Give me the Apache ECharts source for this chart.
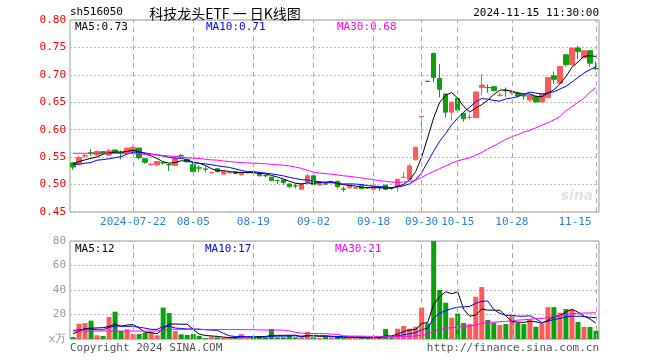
<!DOCTYPE html>
<html><head><meta charset="utf-8">
<script src="https://cdn.jsdelivr.net/npm/echarts@6/dist/echarts.min.js"></script>
<style>html,body{margin:0;padding:0;background:#fff}#c{width:660px;height:360px}</style>
</head><body><div id="c"></div>
<script>
const dates = ['2024-07-08','2024-07-09','2024-07-10','2024-07-11','2024-07-12','2024-07-15','2024-07-16','2024-07-17','2024-07-18','2024-07-19',
'2024-07-22','2024-07-23','2024-07-24','2024-07-25','2024-07-26','2024-07-29','2024-07-30','2024-07-31','2024-08-01','2024-08-02',
'2024-08-05','2024-08-06','2024-08-07','2024-08-08','2024-08-09','2024-08-12','2024-08-13','2024-08-14','2024-08-15','2024-08-16',
'2024-08-19','2024-08-20','2024-08-21','2024-08-22','2024-08-23','2024-08-26','2024-08-27','2024-08-28','2024-08-29','2024-08-30',
'2024-09-02','2024-09-03','2024-09-04','2024-09-05','2024-09-06','2024-09-09','2024-09-10','2024-09-11','2024-09-12','2024-09-13',
'2024-09-18','2024-09-19','2024-09-20','2024-09-23','2024-09-24','2024-09-25','2024-09-26','2024-09-27','2024-09-30','2024-10-08',
'2024-10-09','2024-10-10','2024-10-11','2024-10-14','2024-10-15','2024-10-16','2024-10-17','2024-10-18','2024-10-21','2024-10-22',
'2024-10-23','2024-10-24','2024-10-25','2024-10-28','2024-10-29','2024-10-30','2024-10-31','2024-11-01','2024-11-04','2024-11-05',
'2024-11-06','2024-11-07','2024-11-08','2024-11-11','2024-11-12','2024-11-13','2024-11-14','2024-11-15'];
const labelDates = ['2024-07-22','2024-08-05','2024-08-19','2024-09-02','2024-09-18','2024-09-30','2024-10-15','2024-10-28','2024-11-15'];

const opens = [0.5395,0.538,0.552,0.558,0.554,0.560,0.554,0.563,0.559,0.5575,
0.5605,0.5665,0.547,0.5365,0.536,0.540,0.5365,0.535,0.5525,0.546,
0.536,0.5305,0.5285,0.5215,0.529,0.519,0.5215,0.5235,0.5175,0.5215,
0.5225,0.521,0.5165,0.5135,0.5075,0.5085,0.501,0.498,0.4915,0.504,
0.516,0.499,0.5015,0.5045,0.506,0.492,0.494,0.4935,0.4988,0.4945,
0.4914,0.4945,0.4988,0.4935,0.4964,0.5128,0.5097,0.545,0.6237,0.6885,
0.739,0.6936,0.665,0.632,0.657,0.630,0.6225,0.622,0.677,0.677,
0.6784,0.6625,0.6715,0.667,0.6665,0.662,0.6543,0.6604,0.6506,0.6585,
0.6982,0.6848,0.7366,0.7183,0.7488,0.731,0.744,0.7115];
const closes = [0.532,0.549,0.553,0.557,0.5605,0.557,0.5615,0.559,0.558,0.5665,
0.568,0.549,0.5405,0.537,0.542,0.5395,0.536,0.547,0.552,0.5415,
0.5235,0.530,0.528,0.522,0.5235,0.5235,0.522,0.520,0.522,0.522,
0.522,0.516,0.516,0.5075,0.507,0.504,0.496,0.4975,0.501,0.516,
0.500,0.505,0.501,0.505,0.4965,0.4915,0.499,0.494,0.4926,0.494,
0.4963,0.494,0.4914,0.493,0.5097,0.5133,0.534,0.568,0.6243,0.688,
0.6954,0.6736,0.632,0.650,0.636,0.620,0.6226,0.6687,0.6814,0.6766,
0.671,0.663,0.671,0.669,0.6616,0.6616,0.6622,0.6506,0.6646,0.695,
0.692,0.7153,0.7183,0.7488,0.7427,0.744,0.7213,0.711];
const lows = [0.527,0.535,0.549,0.552,0.552,0.554,0.552,0.557,0.546,0.556,
0.559,0.546,0.538,0.534,0.533,0.536,0.525,0.534,0.548,0.540,
0.5225,0.5225,0.5225,0.520,0.522,0.518,0.520,0.519,0.517,0.520,
0.519,0.515,0.513,0.506,0.501,0.499,0.495,0.493,0.491,0.503,
0.499,0.498,0.499,0.503,0.493,0.487,0.493,0.492,0.492,0.492,
0.490,0.488,0.490,0.4905,0.487,0.512,0.5085,0.545,0.594,0.6875,
0.687,0.659,0.6226,0.6166,0.634,0.6146,0.618,0.621,0.6625,0.6675,
0.6705,0.660,0.660,0.664,0.6586,0.6545,0.651,0.6506,0.6506,0.6585,
0.6842,0.6836,0.7153,0.7183,0.7287,0.730,0.7153,0.709];
const highs = [0.541,0.552,0.556,0.565,0.562,0.561,0.565,0.564,0.562,0.567,
0.571,0.567,0.549,0.540,0.543,0.5425,0.538,0.551,0.5555,0.547,
0.542,0.535,0.533,0.524,0.530,0.5245,0.524,0.524,0.523,0.524,
0.526,0.522,0.519,0.514,0.5095,0.509,0.502,0.502,0.502,0.520,
0.517,0.506,0.503,0.507,0.507,0.4965,0.500,0.4955,0.500,0.4955,
0.497,0.4955,0.500,0.4945,0.5097,0.523,0.537,0.568,0.6243,0.6885,
0.741,0.7197,0.666,0.651,0.658,0.6305,0.629,0.670,0.7015,0.683,
0.680,0.668,0.677,0.672,0.6695,0.6655,0.663,0.661,0.665,0.6955,
0.706,0.7165,0.737,0.749,0.753,0.7445,0.7445,0.7244];

const ma5 = [0.538,0.542,0.545,0.548,0.5503,0.5553,0.5578,0.559,0.5592,0.5604,
0.5626,0.5601,0.5564,0.5522,0.5473,0.5416,0.539,0.5403,0.5433,0.5432,
0.540,0.5388,0.535,0.529,0.5254,0.5254,0.5238,0.5222,0.5222,0.5219,
0.5216,0.5204,0.5196,0.5167,0.5137,0.5101,0.5061,0.5024,0.5011,0.5029,
0.5021,0.5039,0.5046,0.5054,0.5015,0.4998,0.4986,0.4972,0.4947,0.4942,
0.4952,0.4942,0.4937,0.4937,0.4969,0.5003,0.5083,0.5236,0.5499,0.5855,
0.6219,0.6499,0.6627,0.6678,0.6574,0.6423,0.6321,0.6395,0.6457,0.6539,
0.6641,0.6721,0.6726,0.6701,0.6671,0.6652,0.6651,0.661,0.6601,0.6668,
0.6729,0.6835,0.697,0.7139,0.7234,0.7338,0.735,0.7336];
const ma10 = [0.537,0.537,0.539,0.540,0.5445,0.5455,0.547,0.549,0.551,0.5554,
0.559,0.559,0.5577,0.5557,0.5539,0.5521,0.5496,0.5484,0.5478,0.5453,
0.5408,0.5389,0.5377,0.5362,0.5343,0.5327,0.5313,0.5286,0.5256,0.5237,
0.5235,0.5221,0.5209,0.5195,0.5178,0.5159,0.5133,0.511,0.5089,0.5083,
0.5061,0.505,0.5035,0.5033,0.5022,0.501,0.5013,0.5009,0.5001,0.4979,
0.4975,0.4964,0.4955,0.4942,0.4956,0.4978,0.5013,0.5087,0.5218,0.5412,
0.5611,0.5791,0.5932,0.6089,0.6215,0.6321,0.641,0.6511,0.6568,0.6557,
0.6532,0.6521,0.6561,0.6579,0.6605,0.6647,0.6686,0.6668,0.6651,0.667,
0.6691,0.6743,0.679,0.687,0.6951,0.7034,0.7093,0.7153];
const ma30 = [0.557,0.557,0.557,0.557,0.557,0.557,0.557,0.557,0.5568,0.5567,
0.5565,0.5558,0.5552,0.555,0.554,0.553,0.552,0.5515,0.550,0.549,
0.548,0.5475,0.546,0.545,0.5445,0.543,0.542,0.541,0.540,0.5395,
0.539,0.5385,0.538,0.537,0.536,0.5355,0.534,0.532,0.5295,0.526,
0.5225,0.521,0.520,0.519,0.5175,0.516,0.515,0.5135,0.512,0.5105,
0.509,0.507,0.506,0.5045,0.504,0.5045,0.5055,0.508,0.513,0.519,
0.524,0.529,0.534,0.539,0.5435,0.546,0.549,0.5535,0.5585,0.565,
0.5705,0.5765,0.5825,0.587,0.591,0.5955,0.599,0.6035,0.608,0.613,
0.618,0.624,0.6345,0.642,0.650,0.6575,0.668,0.677];

const volumes = [1.6,12.5,13,15,3,2.5,18,22.3,6.5,7.9,
4,4,5.2,5.2,3,25.6,21.2,6.5,3.8,3.3,
4,2.5,0.8,1.9,1.4,1,1,1,4,1,
1.4,2.5,1.4,8.2,1.4,1.4,3,1.4,1.4,5.7,
1.4,1,1.9,1.4,1.9,0.8,0.8,1.4,1.4,0.8,
0.8,1.4,8.2,1.4,8.4,10.6,8.4,10,25.6,12.8,
85,40,29.6,17.4,20.7,13,12.2,34.5,42.4,15.5,
13.3,11.4,12.2,18.8,13.3,12.2,16,10,12.2,26,
26,21.5,24.5,23.7,13.9,9.8,9.8,6.8];
const volMa5 = [4.2,6.5,8.5,8.8,9.02,9.2,10.3,12.16,10.46,11.44,
11.74,8.94,5.52,5.26,4.28,8.6,12.04,12.3,12.02,12.08,
7.76,4.02,2.88,2.5,2.12,1.52,1.22,1.26,1.68,1.6,
1.68,1.98,2.06,2.9,2.98,2.98,3.08,3.08,1.72,2.58,
2.58,2.18,2.28,2.28,1.52,1.4,1.36,1.26,1.26,1.04,
1.04,1.16,2.52,2.52,4.04,6,7.4,7.76,12.6,13.48,
28.36,34.68,38.6,36.96,38.54,24.14,18.58,19.56,24.56,23.52,
23.58,23.42,18.96,14.24,13.8,13.58,14.5,14.06,12.74,15.28,
18.04,19.14,22.04,24.34,21.92,18.68,16.34,12.8];
const volMa10 = [7.0,7.5,8.0,8.2,7.6,7.5,9.5,10.5,10.5,10.23,
10.47,9.62,8.84,7.86,7.86,10.17,10.49,8.91,8.64,8.18,
8.18,8.03,7.59,7.26,7.1,4.64,2.62,2.07,2.09,1.86,
1.6,1.6,1.66,2.29,2.29,2.33,2.53,2.57,2.31,2.78,
2.78,2.63,2.68,2.0,2.05,1.99,1.77,1.77,1.77,1.28,
1.22,1.26,1.89,1.89,2.54,3.52,4.28,5.14,7.56,8.76,
17.18,21.04,23.18,24.78,26.01,26.25,26.63,29.08,30.76,31.03,
23.86,21.0,19.26,19.4,18.66,18.58,18.96,16.51,13.49,14.54,
15.81,16.82,18.05,18.54,18.6,18.36,17.74,17.42];
const volMa30 = [6.5,6.5,6.5,6.5,6.5,6.5,6.5,6.5,6.5,6.5,
6.5,6.5,6.5,6.5,6.6,7.4,7.9,7.9,7.9,7.9,
7.8,7.8,7.8,7.8,7.8,7.7,7.7,7.7,7.7,7.6,
7.6,7.4,7.3,7.3,7.3,7.2,6.6,5.4,4.8,4.6,
4.5,4.4,4.4,4.0,3.8,2.6,2.4,2.4,2.3,2.2,
2.2,2.1,2.1,2.1,2.1,2.2,2.2,2.5,3.3,3.7,
6.5,7.8,8.7,9.2,9.8,10.2,10.5,11.6,12.9,13.4,
13.8,14.1,14.4,15.0,15.4,15.7,16.2,16.5,16.8,17.6,
18.4,19.1,19.9,20.6,21.0,21.2,21.3,21.4];

const priceTicks = {min: 0.45, max: 0.80, step: 0.05};
const volTicks = {min: 0, max: 80, step: 20, unit: 'x万'};
const legendPrice = ['MA5:0.73', 'MA10:0.71', 'MA30:0.68'];
const legendVol = ['MA5:12', 'MA10:17', 'MA30:21'];

const UP = '#ff5a5a', DOWN = '#0ca00c';
const MONO = '"DejaVu Sans Mono", "Liberation Mono", monospace';
const G0 = {left: 70, right: 61, top: 20, bottom: 148};
const G1 = {left: 70, right: 61, top: 241, bottom: 21};

const chart = echarts.init(document.getElementById('c'), null, {renderer: 'canvas'});
const vlineStyle = {color: '#aaa', type: [5, 4], width: 1};
const vlines = labelDates.map(d => ({xAxis: d}));
const lastLabel = labelDates[labelDates.length - 1];

function maLine(name, data, color, xi, yi) {
  return {name, type: 'line', data, xAxisIndex: xi, yAxisIndex: yi, symbol: 'none', smooth: false,
    lineStyle: {color, width: 1}, itemStyle: {color}, z: 4, silent: true};
}

chart.setOption({
  animation: false,
  backgroundColor: '#fff',
  grid: [
    Object.assign({show: true, borderColor: '#999', borderWidth: 1, backgroundColor: 'transparent'}, G0),
    Object.assign({show: true, borderColor: '#999', borderWidth: 1, backgroundColor: 'transparent'}, G1)
  ],
  xAxis: [
    {type: 'category', gridIndex: 0, data: dates, boundaryGap: true,
      axisLine: {show: false}, axisTick: {show: false}, splitLine: {show: false},
      axisLabel: {
        interval: (i, v) => labelDates.indexOf(v) >= 0,
        formatter: (v) => {
          if (v === labelDates[0]) return v;
          if (v === lastLabel) return '{r|' + v.slice(5) + '}';
          return v.slice(5);
        },
        rich: {r: {color: '#2a7fd4', fontFamily: MONO, fontSize: 11, padding: [0, 42, 0, 0]}},
        color: '#2a7fd4', fontFamily: MONO, fontSize: 11, margin: 5, hideOverlap: false
      }},
    {type: 'category', gridIndex: 1, data: dates, boundaryGap: true,
      axisLine: {show: false}, axisTick: {show: false}, splitLine: {show: false}, axisLabel: {show: false}}
  ],
  yAxis: [
    {type: 'value', gridIndex: 0, min: priceTicks.min, max: priceTicks.max, interval: priceTicks.step, scale: true,
      axisLine: {show: false}, axisTick: {show: false},
      axisLabel: {color: '#ff0000', fontFamily: MONO, fontSize: 11, margin: 4, formatter: v => v.toFixed(2)},
      splitLine: {show: true, lineStyle: {color: '#bbb', type: [2, 2], width: 1}}},
    {type: 'value', gridIndex: 1, min: volTicks.min, max: volTicks.max, interval: volTicks.step,
      axisLine: {show: false}, axisTick: {show: false},
      axisLabel: {color: '#999', fontFamily: MONO, fontSize: 11, margin: 4,
        formatter: v => v === 0 ? volTicks.unit : String(v)},
      splitLine: {show: true, lineStyle: {color: '#bbb', type: [2, 2], width: 1}}}
  ],
  series: [
    {type: 'line', data: [], xAxisIndex: 0, yAxisIndex: 0, z: 1, silent: true,
      markLine: {silent: true, symbol: ['none', 'none'], label: {show: false}, lineStyle: vlineStyle, animation: false, data: vlines}},
    {type: 'line', data: [], xAxisIndex: 1, yAxisIndex: 1, z: 1, silent: true,
      markLine: {silent: true, symbol: ['none', 'none'], label: {show: false}, lineStyle: vlineStyle, animation: false, data: vlines}},
    {type: 'candlestick', xAxisIndex: 0, yAxisIndex: 0, barWidth: 5, z: 3,
      data: opens.map((o, i) => [o, closes[i], lows[i], highs[i]]),
      itemStyle: {color: UP, color0: DOWN, borderColor: UP, borderColor0: DOWN, borderWidth: 1}},
    maLine('MA5', ma5, '#000000', 0, 0),
    maLine('MA10', ma10, '#0000ff', 0, 0),
    maLine('MA30', ma30, '#ff00ff', 0, 0),
    {type: 'bar', xAxisIndex: 1, yAxisIndex: 1, barWidth: 5, z: 3,
      data: volumes.map((v, i) => ({value: v, itemStyle: {color: closes[i] >= opens[i] ? UP : DOWN}}))},
    maLine('VMA5', volMa5, '#000000', 1, 1),
    maLine('VMA10', volMa10, '#0000ff', 1, 1),
    maLine('VMA30', volMa30, '#ff00ff', 1, 1)
  ],
  graphic: [
    {type: 'text', left: 70, top: 7, style: {text: 'sh516050', font: '11px ' + MONO, fill: '#000'}},
    {type: 'text', x: 225, y: 14, style: {text: '科技龙头ETF 一 日K线图', font: '14px "Noto Sans CJK SC"', fill: '#000', textAlign: 'center', textVerticalAlign: 'middle'}},
    {type: 'text', x: 599, y: 13, style: {text: '2024-11-15 11:30:00', font: '11px ' + MONO, fill: '#000', textAlign: 'right', textVerticalAlign: 'middle'}},
    {type: 'text', x: 75, y: 27, style: {text: legendPrice[0], font: '11px ' + MONO, fill: '#000', textVerticalAlign: 'middle'}},
    {type: 'text', x: 206, y: 27, style: {text: legendPrice[1], font: '11px ' + MONO, fill: '#0000ff', textVerticalAlign: 'middle'}},
    {type: 'text', x: 337, y: 27, style: {text: legendPrice[2], font: '11px ' + MONO, fill: '#ff00ff', textVerticalAlign: 'middle'}},
    {type: 'text', x: 75, y: 249, style: {text: legendVol[0], font: '11px ' + MONO, fill: '#000', textVerticalAlign: 'middle'}},
    {type: 'text', x: 205, y: 249, style: {text: legendVol[1], font: '11px ' + MONO, fill: '#0000ff', textVerticalAlign: 'middle'}},
    {type: 'text', x: 335, y: 249, style: {text: legendVol[2], font: '11px ' + MONO, fill: '#ff00ff', textVerticalAlign: 'middle'}},
    {type: 'text', x: 70, y: 348, style: {text: 'Copyright 2024 SINA.COM', font: '11px ' + MONO, fill: '#555', textVerticalAlign: 'middle'}},
    {type: 'text', x: 599, y: 348, style: {text: 'http://finance.sina.com.cn', font: '11px ' + MONO, fill: '#555', textAlign: 'right', textVerticalAlign: 'middle'}},
    {type: 'text', x: 577, y: 196, z: 0, style: {text: 'sina', font: 'italic bold 14px "DejaVu Sans"', fill: '#e2e2e2', textAlign: 'center', textVerticalAlign: 'middle'}}
  ]
});
</script></body></html>
